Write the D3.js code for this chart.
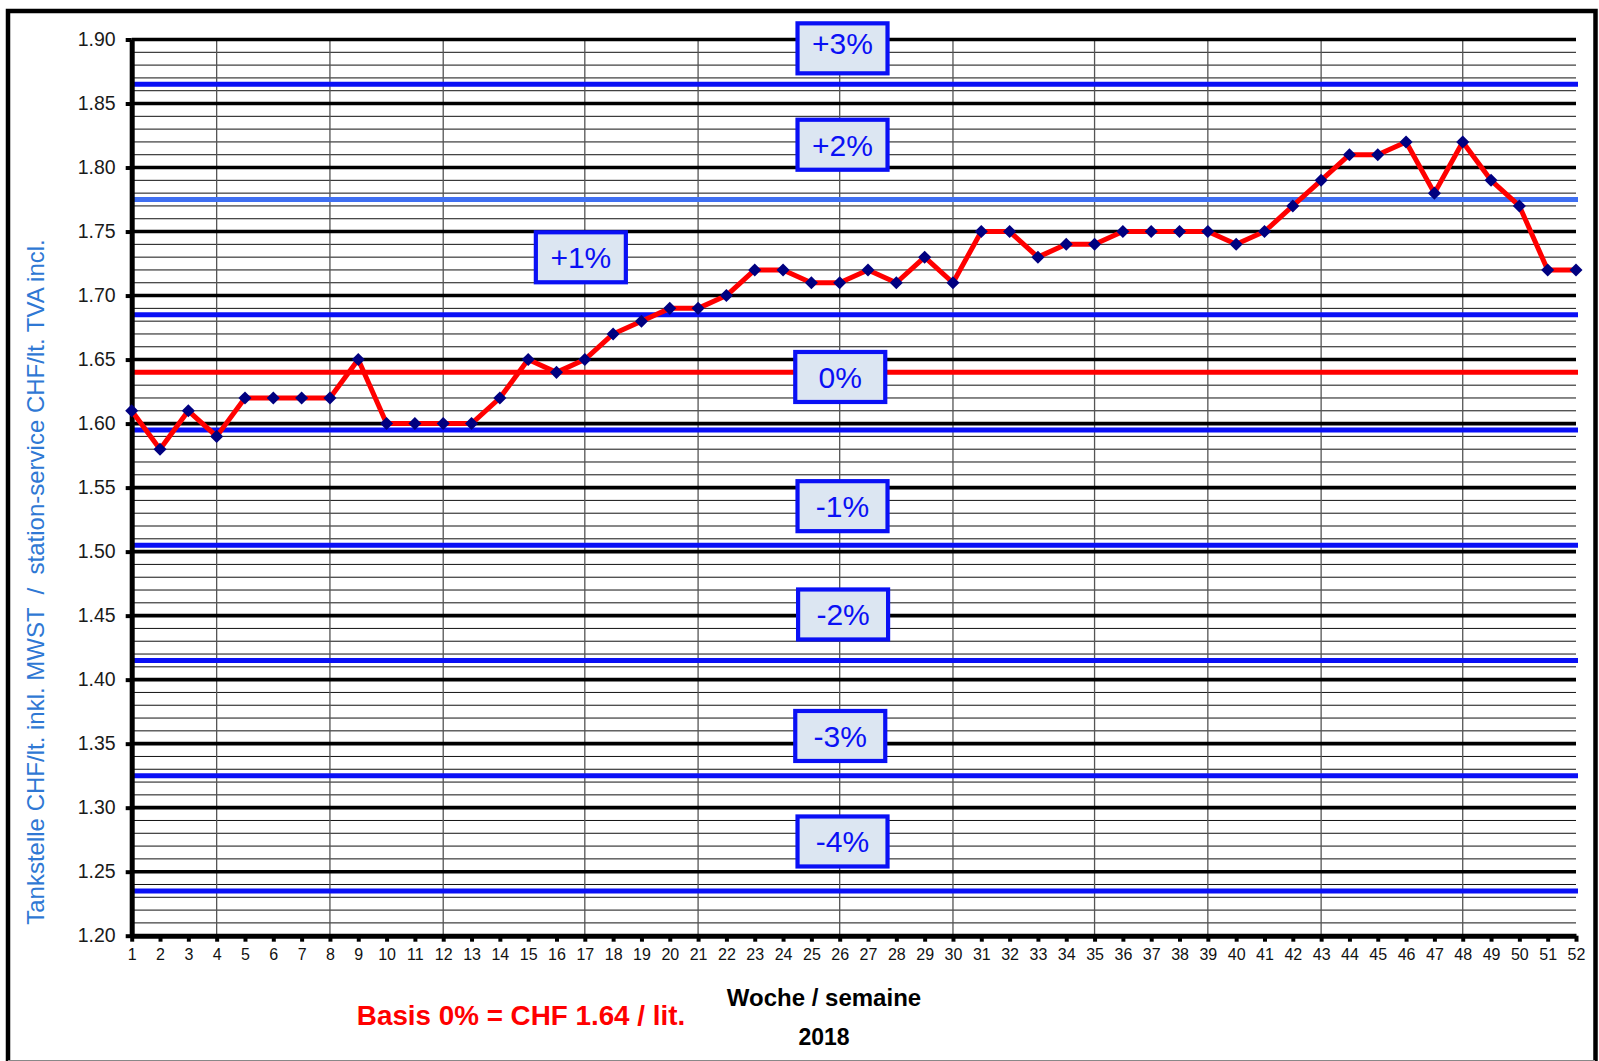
<!DOCTYPE html>
<html>
<head>
<meta charset="utf-8">
<script src="https://cdn.jsdelivr.net/npm/d3@7"></script>
<style>
  html, body { margin: 0; padding: 0; background: #fff; }
  svg { display: block; font-family: "Liberation Sans", Arial, sans-serif; }
</style>
</head>
<body>
<svg id="chart" width="1599" height="1061"></svg>
<script>
// weekly fuel price 2018, CHF per litre
const weeks = [1, 2, 3, 4, 5, 6, 7, 8, 9, 10, 11, 12, 13, 14, 15, 16, 17, 18, 19, 20,
    21, 22, 23, 24, 25, 26, 27, 28, 29, 30, 31, 32, 33, 34, 35, 36, 37, 38, 39, 40,
    41, 42, 43, 44, 45, 46, 47, 48, 49, 50, 51, 52];
const prices = [1.61, 1.58, 1.61, 1.59, 1.62, 1.62, 1.62, 1.62, 1.65, 1.60,
    1.60, 1.60, 1.60, 1.62, 1.65, 1.64, 1.65, 1.67, 1.68, 1.69,
    1.69, 1.70, 1.72, 1.72, 1.71, 1.71, 1.72, 1.71, 1.73, 1.71,
    1.75, 1.75, 1.73, 1.74, 1.74, 1.75, 1.75, 1.75, 1.75, 1.74,
    1.75, 1.77, 1.79, 1.81, 1.81, 1.82, 1.78, 1.82, 1.79, 1.77,
    1.72, 1.72];
const monthWeeks = [4, 8, 12, 17, 21, 26, 30, 35, 39, 43, 48];
const basis = 1.64;
const bandLevels = [1.865, 1.775, 1.685, 1.595, 1.505, 1.415, 1.325, 1.235];
const bandLabels = ["+3%", "+2%", "+1%", "0%", "-1%", "-2%", "-3%", "-4%"];
const labelWeeks = [26.1, 26.1, 16.86, 26.02, 26.1, 26.12, 26.02, 26.1];
const labelValues = [1.8931, 1.8178, 1.7299, 1.6364, 1.5355, 1.4509, 1.356, 1.2736];
const yMajor = [1.20, 1.25, 1.30, 1.35, 1.40, 1.45, 1.50, 1.55, 1.60, 1.65, 1.70, 1.75, 1.80, 1.85, 1.90];

const svg = d3.select("#chart");
const x = d3.scaleLinear().domain([1, 52]).range([131.7, 1576]);
const y = d3.scaleLinear().domain([1.20, 1.90]).range([935.7, 39.5]);

// outer frame
svg.append("rect")
    .attr("x", 8).attr("y", 11)
    .attr("width", 1587.5).attr("height", 1070)
    .attr("fill", "none").attr("stroke", "#000").attr("stroke-width", 4.5);
svg.append("line")
    .attr("x1", 8).attr("x2", 1595).attr("y1", 1060.5).attr("y2", 1060.5)
    .attr("stroke", "#888").attr("stroke-width", 1);

const grid = svg.append("g");
// minor horizontal lines (0.01)
grid.selectAll(".minor")
    .data(y.ticks(70))
    .join("line")
    .attr("x1", x(1)).attr("x2", x(52))
    .attr("y1", d => y(d)).attr("y2", d => y(d))
    .attr("stroke", "#111").attr("stroke-width", 1);
// month lines
grid.selectAll(".month")
    .data(monthWeeks)
    .join("line")
    .attr("x1", d => x(d)).attr("x2", d => x(d))
    .attr("y1", y(1.90)).attr("y2", y(1.20))
    .attr("stroke", "#555").attr("stroke-width", 1.3);
// major horizontal lines (0.05)
grid.selectAll(".major")
    .data(yMajor)
    .join("line")
    .attr("x1", x(1)).attr("x2", x(52))
    .attr("y1", d => y(d)).attr("y2", d => y(d))
    .attr("stroke", "#000").attr("stroke-width", 3.6);

// percent band lines
svg.append("g").selectAll("line")
    .data(bandLevels)
    .join("line")
    .attr("x1", x(1)).attr("x2", x(52) + 2)
    .attr("y1", d => y(d)).attr("y2", d => y(d))
    .attr("stroke", (d, i) => i === 1 ? "#3f6ff2" : "#0a10f5")
    .attr("stroke-width", 5);
// basis line
svg.append("line")
    .attr("x1", x(1)).attr("x2", x(52) + 2)
    .attr("y1", y(basis)).attr("y2", y(basis))
    .attr("stroke", "#ff0000").attr("stroke-width", 5);

// axes
const yAxis = svg.append("g")
    .attr("transform", `translate(${x(1)},0)`)
    .call(d3.axisLeft(y).tickValues(yMajor).tickFormat(d3.format(".2f")).tickSize(6).tickSizeOuter(0).tickPadding(10));
yAxis.select(".domain").attr("stroke", "#000").attr("stroke-width", 5);
yAxis.selectAll(".tick line").attr("stroke", "#000").attr("stroke-width", 4);
yAxis.selectAll(".tick text")
    .attr("font-size", 19.5).attr("fill", "#1a1a1a")
    .attr("font-family", "'Liberation Sans', Arial, sans-serif");

const xAxis = svg.append("g")
    .attr("transform", `translate(0,${y(1.20)})`)
    .call(d3.axisBottom(x).tickValues(weeks).tickFormat(d3.format("d")).tickSize(6).tickSizeOuter(0).tickPadding(7));
xAxis.select(".domain").attr("stroke", "#000").attr("stroke-width", 5);
xAxis.selectAll(".tick line").attr("stroke", "#000").attr("stroke-width", 4);
xAxis.selectAll(".tick text")
    .attr("font-size", 16).attr("fill", "#111")
    .attr("font-family", "'Liberation Sans', Arial, sans-serif");

// price line
const line = d3.line()
    .x((d, i) => x(weeks[i]))
    .y(d => y(d));
svg.append("path")
    .datum(prices)
    .attr("d", line)
    .attr("fill", "none")
    .attr("stroke", "#ff0000")
    .attr("stroke-width", 5)
    .attr("stroke-linejoin", "round");
const diamond = d3.symbol().type(d3.symbolSquare).size(85);
svg.append("g").selectAll("path")
    .data(prices)
    .join("path")
    .attr("d", diamond)
    .attr("transform", (d, i) => `translate(${x(weeks[i])},${y(d)}) rotate(45)`)
    .attr("fill", "#000080");

// percent labels
const boxes = svg.append("g").selectAll("g")
    .data(bandLabels)
    .join("g")
    .attr("transform", (d, i) => `translate(${x(labelWeeks[i])},${y(labelValues[i])})`);
boxes.append("rect")
    .attr("x", -45).attr("y", -25)
    .attr("width", 90).attr("height", 50)
    .attr("fill", "#dce6f2")
    .attr("stroke", "#0a10f5")
    .attr("stroke-width", 4.2);
boxes.append("text")
    .attr("text-anchor", "middle")
    .attr("dy", (d, i) => i === 0 ? "0.2em" : "0.36em")
    .attr("font-size", 30)
    .attr("fill", "#0a10f5")
    .text(d => d);

// axis titles
svg.append("text")
    .attr("transform", "translate(44,582) rotate(-90)")
    .attr("text-anchor", "middle")
    .attr("font-size", 24)
    .attr("fill", "#2f78d4")
    .text("Tankstelle CHF/lt. inkl. MWST  /  station-service CHF/lt. TVA incl.")
    .style("white-space", "pre");
svg.append("text")
    .attr("x", 824).attr("y", 1006)
    .attr("text-anchor", "middle")
    .attr("font-size", 24).attr("font-weight", "bold")
    .text("Woche / semaine");
svg.append("text")
    .attr("x", 824).attr("y", 1045)
    .attr("text-anchor", "middle")
    .attr("font-size", 23).attr("font-weight", "bold")
    .text("2018");
svg.append("text")
    .attr("x", 521).attr("y", 1025)
    .attr("text-anchor", "middle")
    .attr("font-size", 27.8).attr("font-weight", "bold")
    .attr("fill", "#ff0000")
    .text("Basis 0% = CHF 1.64 / lit.");
</script>
</body>
</html>
